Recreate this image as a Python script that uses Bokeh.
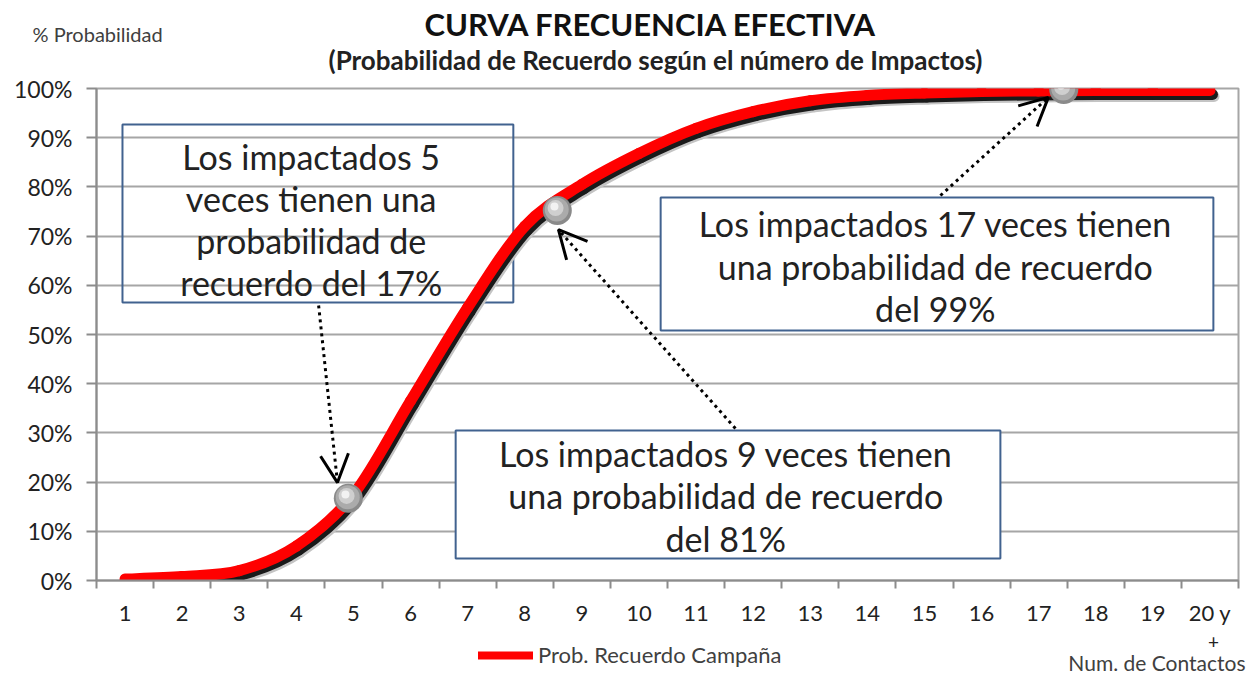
import numpy as np
from bokeh.plotting import figure
from bokeh.layouts import column
from bokeh.models import (Range1d, FixedTicker, PrintfTickFormatter, Label, BoxAnnotation,
                          Arrow, OpenHead, Legend, LegendItem, ColumnDataSource)
from bokeh.core.properties import value
from bokeh.transform import dodge
from bokeh.embed import file_html
from bokeh.resources import INLINE

# ---------------- data ----------------
contacts = list(range(1, 21))
contact_labels = {20: "20 y"}
recall_pct = [0.3, 0.8, 2.0, 7.0, 17.5, 36.5, 55.5, 72.0, 80.5, 86.8,
              91.9, 95.3, 97.5, 98.6, 99.1, 99.4, 99.5, 99.6, 99.6, 99.6]
highlight_x = [4.91, 8.57, 17.44]
highlight_y = [16.7, 75.2, 99.8]
y_ticks = list(range(0, 101, 10))

title_text = "CURVA FRECUENCIA  EFECTIVA"
subtitle_text = "(Probabilidad de Recuerdo según el número de Impactos)"
y_title = "% Probabilidad"
x_title = "Num. de Contactos"
series_name = "Prob. Recuerdo Campaña"

FONT = "Lato"
TXT = "#222222"
AXC = "#8C8C8C"
BOXC = "#41628F"
W = 1247
HEAD_H = 74

# ---------------- header ----------------
head = figure(width=W, height=HEAD_H, x_range=Range1d(0, W), y_range=Range1d(HEAD_H, 0),
              x_axis_type=None, y_axis_type=None, output_backend="svg", toolbar_location=None,
              min_border=0, outline_line_color=None)
head.frame_align = False
head.grid.visible = False
head.text(x=[654], y=[23], text=[title_text], text_align="center", text_baseline="middle",
          text_font=value(FONT), text_font_style="bold", text_font_size="31px", text_color="#111111")
head.text(x=[655], y=[59], text=[subtitle_text], text_align="center", text_baseline="middle",
          text_font=value(FONT), text_font_style="bold", text_font_size="26px", text_color="#222222")
head.text(x=[32], y=[33], text=[y_title], text_align="left", text_baseline="middle",
          text_font=value(FONT), text_font_size="20px", text_color="#404040")

# ---------------- main chart ----------------
xs = np.array(contacts, dtype=float)
ys = np.array(recall_pct, dtype=float)
n = len(xs)
idx = np.arange(n - 1)
im1 = np.clip(idx - 1, 0, n - 1)
ip2 = np.clip(idx + 2, 0, n - 1)
seg = ColumnDataSource(dict(
    x0=xs[idx], y0=ys[idx], x1=xs[idx + 1], y1=ys[idx + 1],
    cx0=xs[idx] + (xs[idx + 1] - xs[im1]) / 6.0,
    cy0=ys[idx] + (ys[idx + 1] - ys[im1]) / 6.0,
    cx1=xs[idx + 1] - (xs[ip2] - xs[idx]) / 6.0,
    cy1=ys[idx + 1] - (ys[ip2] - ys[idx]) / 6.0,
))

p = figure(width=W, height=492 + (88 - HEAD_H) + 50, x_range=Range1d(0.5, 20.5), y_range=Range1d(0, 100),
           output_backend="svg", toolbar_location=None,
           min_border_left=96, min_border_right=9, min_border_top=88 - HEAD_H, min_border_bottom=50)
p.frame_align = False
p.outline_line_color = "#A6A6A6"
p.outline_line_width = 2

p.xgrid.visible = False
p.ygrid.ticker = FixedTicker(ticks=y_ticks)
p.ygrid.grid_line_color = "#A6A6A6"
p.ygrid.grid_line_width = 2

xa = p.xaxis[0]
xa.ticker = FixedTicker(ticks=contacts, minor_ticks=[c - 0.5 for c in contacts] + [20.5])
xa.major_label_overrides = contact_labels
xa.major_tick_line_color = None
xa.major_tick_out = 0
xa.major_tick_in = 0
xa.minor_tick_out = 8
xa.minor_tick_in = 0
xa.minor_tick_line_color = AXC
xa.minor_tick_line_width = 2
xa.axis_line_color = AXC
xa.axis_line_width = 2
xa.major_label_standoff = 10
xa.major_label_text_font = FONT
xa.major_label_text_font_size = "22px"
xa.major_label_text_color = TXT

ya = p.yaxis[0]
ya.ticker = FixedTicker(ticks=y_ticks)
ya.formatter = PrintfTickFormatter(format="%d%%")
ya.major_tick_out = 10
ya.major_tick_in = 0
ya.minor_tick_line_color = None
ya.major_tick_line_color = AXC
ya.major_tick_line_width = 2
ya.axis_line_color = AXC
ya.axis_line_width = 2
ya.major_label_standoff = 14
ya.major_label_text_font = FONT
ya.major_label_text_font_size = "23px"
ya.major_label_text_color = TXT

box1 = BoxAnnotation(left=0.955, right=7.80, bottom=56.5, top=92.7, fill_alpha=0,
                     line_color=BOXC, line_alpha=1, line_width=2, level="underlay")
p.add_layout(box1)

# curve shadow + curve (smoothed through the data points)
for dx, dy, col in [(0.07, -1.22, "#C4C4C4"), (0.044, -0.81, "#1A1A1A")]:
    p.bezier(x0=dodge("x0", dx), y0=dodge("y0", dy), x1=dodge("x1", dx), y1=dodge("y1", dy),
             cx0=dodge("cx0", dx), cy0=dodge("cy0", dy), cx1=dodge("cx1", dx), cy1=dodge("cy1", dy),
             source=seg, line_color=col, line_width=11, line_cap="round")
curve = p.bezier(x0="x0", y0="y0", x1="x1", y1="y1", cx0="cx0", cy0="cy0", cx1="cx1", cy1="cy1",
                 source=seg, line_color="#FF0000", line_width=11, line_cap="round")

hs = ColumnDataSource(dict(x=highlight_x, y=highlight_y))
p.scatter("x", "y", source=hs, size=29, fill_color="#8A8A8A", line_color=None)
p.scatter(dodge("x", -0.01), dodge("y", 0.2), source=hs, size=24, fill_color="#ABABAB", line_color=None)
p.scatter(dodge("x", -0.03), dodge("y", 0.5), source=hs, size=16, fill_color="#CFCFCF", line_color=None)
p.scatter(dodge("x", -0.05), dodge("y", 0.8), source=hs, size=8, fill_color="#F2F2F2", line_color=None)

box2 = BoxAnnotation(left=10.38, right=20.06, bottom=50.8, top=77.85, fill_color="white", fill_alpha=1,
                     line_color=BOXC, line_alpha=1, line_width=2)
box3 = BoxAnnotation(left=6.79, right=16.33, bottom=4.47, top=30.5, fill_color="white", fill_alpha=1,
                     line_color=BOXC, line_alpha=1, line_width=2)
p.add_layout(box2)
p.add_layout(box3)

box_texts = [
    (4.26, 73.4, "Los impactados 5\nveces tienen una\nprobabilidad de\nrecuerdo del 17%"),
    (15.19, 63.9, "Los impactados 17 veces tienen\nuna probabilidad de recuerdo\ndel 99%"),
    (11.52, 17.2, "Los impactados 9 veces tienen\nuna probabilidad de recuerdo\ndel 81%"),
]
for bx, by, t in box_texts:
    p.add_layout(Label(x=bx, y=by, text=t, text_align="center", text_baseline="middle",
                       text_font=FONT, text_font_size="34px", text_color=TXT, text_line_height=1.03))

for (xs0, ys0, xe, ye) in [(4.39, 55.9, 4.72, 19.9), (11.69, 30.9, 8.59, 71.3), (15.28, 78.25, 17.17, 98.2)]:
    p.add_layout(Arrow(x_start=xs0, y_start=ys0, x_end=xe, y_end=ye,
                       line_color="black", line_width=3, line_dash="3 4",
                       end=OpenHead(size=28, line_color="black", line_width=3)))

# ---------------- footer ----------------
foot = figure(width=W, height=45, x_range=Range1d(0, W), y_range=Range1d(45, 0),
              x_axis_type=None, y_axis_type=None, output_backend="svg", toolbar_location=None,
              min_border=0, outline_line_color=None)
foot.frame_align = False
foot.grid.visible = False
foot.text(x=[1213], y=[11], text=["+"], text_align="center", text_baseline="middle",
          text_font=value(FONT), text_font_size="19px", text_color=TXT)
foot.text(x=[1245], y=[32], text=[x_title], text_align="right", text_baseline="middle",
          text_font=value(FONT), text_font_size="21px", text_color="#404040")
key = foot.line(x=[float("nan")], y=[float("nan")], line_color="#FF0000", line_width=8, line_cap="round")
legend = Legend(items=[LegendItem(label=series_name, renderers=[key])],
                location=(478, 7), orientation="horizontal", padding=0, margin=0, spacing=0,
                border_line_color=None, background_fill_alpha=0, glyph_width=55, glyph_height=22,
                label_height=22, label_standoff=5, label_text_font=FONT, label_text_font_size="22px",
                label_text_color="#404040")
foot.add_layout(legend)

page = column(head, p, foot, spacing=0)
open("out.html", "w").write(file_html(page, INLINE))
